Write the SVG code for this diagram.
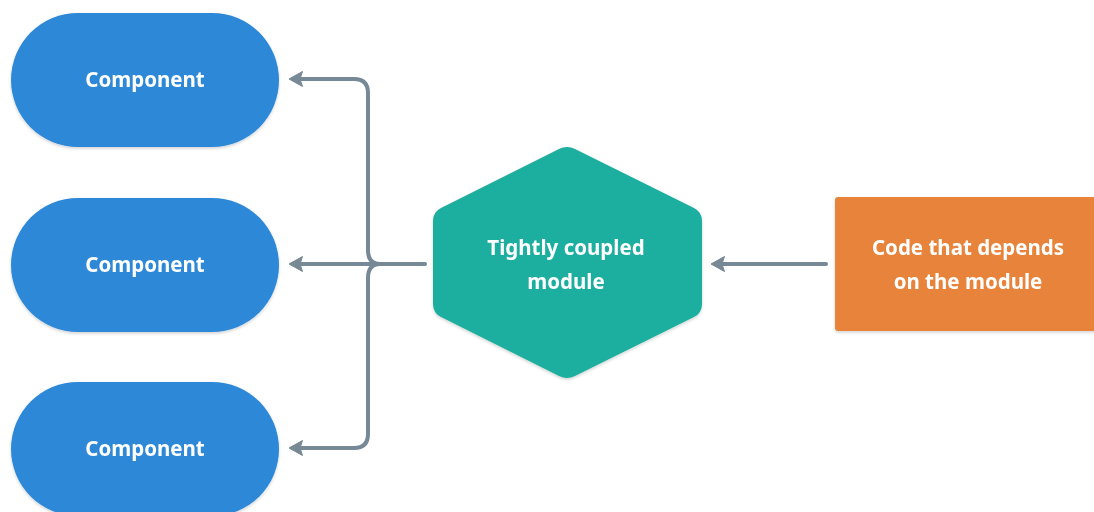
<svg xmlns="http://www.w3.org/2000/svg" width="1094" height="512" viewBox="0 0 1094 512">
  <style>
    .lbl { font-family: "Noto Sans", "Liberation Sans", sans-serif; font-weight: 700; font-size: 20.5px; fill: #ffffff; text-anchor: middle; }
    .pill { fill: #2d88d8; }
    .conn { fill: none; stroke: #778897; stroke-width: 4; stroke-linecap: round; stroke-linejoin: round; }
  </style>
  <defs>
    <filter id="shadow" x="-10%" y="-10%" width="120%" height="130%">
      <feDropShadow dx="0" dy="1.5" stdDeviation="1.5" flood-color="#000" flood-opacity="0.18"/>
    </filter>
    <marker id="arrow" viewBox="-1 -1 16 18" refX="7" refY="8" markerWidth="16" markerHeight="18" markerUnits="userSpaceOnUse" orient="auto">
      <path d="M14,8 L0.5,0.5 L3,8 L0.5,15.5 Z" fill="#778897" stroke="#778897" stroke-width="1" stroke-linejoin="round"/>
    </marker>
  </defs>

  <rect width="1094" height="512" fill="#ffffff"/>

  <!-- components -->
  <g id="component-1" filter="url(#shadow)">
    <rect class="pill" x="11" y="13" width="268" height="134" rx="67"/>
    <text class="lbl" x="145" y="87">Component</text>
  </g>
  <g id="component-2" filter="url(#shadow)">
    <rect class="pill" x="11" y="198" width="268" height="134" rx="67"/>
    <text class="lbl" x="145" y="272">Component</text>
  </g>
  <g id="component-3" filter="url(#shadow)">
    <rect class="pill" x="11" y="382" width="268" height="134" rx="67"/>
    <text class="lbl" x="145" y="456">Component</text>
  </g>

  <!-- module -->
  <g id="module" filter="url(#shadow)">
    <path d="M559,149 Q567,145 575,149 L694,208 Q702,212 702,221 L702,304 Q702,313 694,317 L575,376 Q567,380 559,376 L441,317 Q433,313 433,304 L433,221 Q433,212 441,208 Z" fill="#1aae9f"/>
    <text class="lbl" x="566" y="255">Tightly coupled</text>
    <text class="lbl" x="566" y="289">module</text>
  </g>

  <!-- dependent code -->
  <g id="dependent" filter="url(#shadow)">
    <rect x="835" y="197" width="270" height="134" rx="3" fill="#e8833a"/>
    <text class="lbl" x="968" y="255">Code that depends</text>
    <text class="lbl" x="968" y="289">on the module</text>
  </g>

  <!-- connectors -->
  <g id="connectors">
    <path class="conn" d="M425,264 L296,264" marker-end="url(#arrow)"/>
    <path class="conn" d="M380,264 Q368,264 368,250 L368,93 Q368,79 354,79 L296,79" marker-end="url(#arrow)"/>
    <path class="conn" d="M380,264 Q368,264 368,278 L368,434 Q368,448 354,448 L296,448" marker-end="url(#arrow)"/>
    <path class="conn" d="M826,264 L718,264" marker-end="url(#arrow)"/>
  </g>
</svg>
